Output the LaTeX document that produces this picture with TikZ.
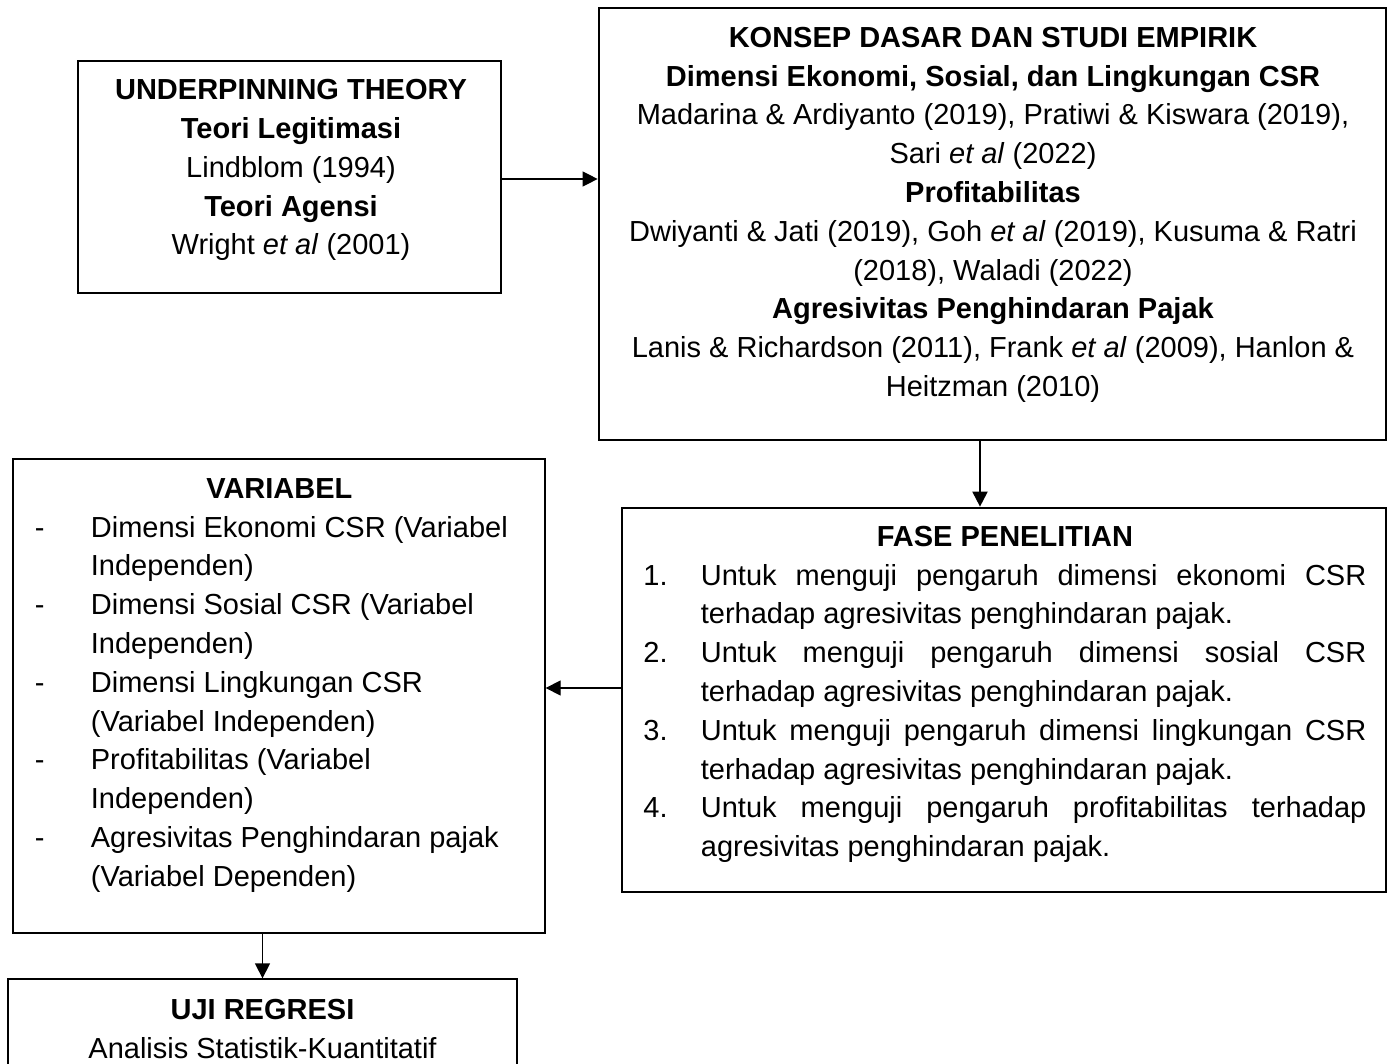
\documentclass[tikz,border=0pt]{standalone}
\usepackage{fontspec}
\setmainfont{Liberation Sans}
\usetikzlibrary{arrows.meta}
\newcommand{\natsp}{\spaceskip=0pt\xspaceskip=0pt\relax}
\newcommand{\fixsp}{\spaceskip=0.2778em\xspaceskip=0.2778em\relax}
\begin{document}
\begin{tikzpicture}[x=0.5pt,y=-0.5pt,
  every node/.style={font=\fontsize{14.5pt}{19.4pt}\selectfont},
  thinbox/.style={draw, line width=0.65pt, rectangle, inner sep=0pt},
  thickbox/.style={draw, line width=1.35pt, rectangle, inner sep=0pt},
  txt/.style={inner sep=0pt, anchor=north},
  arr/.style={line width=0.65pt, -{Triangle[length=7.5pt,width=7.5pt]}}]
\clip (0,0) rectangle (1394,1064);
\fill[white] (0,0) rectangle (1394,1064);
% boxes
\node[thinbox, minimum width=211.5pt, minimum height=116pt] (b1) at (289.5,177) {};
\node[thickbox, minimum width=393.5pt, minimum height=216pt] (b2) at (992.5,224) {};
\node[thickbox, minimum width=382pt, minimum height=192pt] (b3) at (1004,700) {};
\node[thinbox, minimum width=266pt, minimum height=237pt] (b4) at (279,696) {};
\node[thinbox, minimum width=254.5pt, minimum height=70.5pt] (b5) at (262.5,1049.5) {};
% texts
\node[txt, text width=210pt, align=center] (t1) at (291,69.3) {\fixsp\rule{0pt}{15pt}\textbf{UNDERPINNING THEORY}\\
\textbf{Teori Legitimasi}\\
Lindblom (1994)\\
\textbf{Teori Agensi}\\
Wright \textit{et al} (2001)};
\node[txt, text width=380pt, align=center] (t2) at (993,17) {\fixsp\rule{0pt}{15pt}\textbf{KONSEP DASAR DAN STUDI EMPIRIK}\\
\textbf{Dimensi Ekonomi, Sosial, dan Lingkungan CSR}\\
Madarina \& Ardiyanto (2019), Pratiwi \& Kiswara (2019),\\
Sari \textit{et al} (2022)\\
\textbf{Profitabilitas}\\
Dwiyanti \& Jati (2019), Goh \textit{et al} (2019), Kusuma \& Ratri\\
(2018), Waladi (2022)\\
\textbf{Agresivitas Penghindaran Pajak}\\
Lanis \& Richardson (2011), Frank \textit{et al} (2009), Hanlon \&\\
Heitzman (2010)};
\node[txt, anchor=north west, text width=361.5pt, align=left] (t3) at (643,516) {\fixsp\rule{0pt}{15pt}\makebox[361.5pt]{\textbf{FASE PENELITIAN}}\\
\makebox[28.75pt][l]{1.}\makebox[332.75pt][s]{\natsp Untuk menguji pengaruh dimensi ekonomi CSR}\\
\hspace*{28.75pt}terhadap agresivitas penghindaran pajak.\\
\makebox[28.75pt][l]{2.}\makebox[332.75pt][s]{\natsp Untuk menguji pengaruh dimensi sosial CSR}\\
\hspace*{28.75pt}terhadap agresivitas penghindaran pajak.\\
\makebox[28.75pt][l]{3.}\makebox[332.75pt][s]{\natsp Untuk menguji pengaruh dimensi lingkungan CSR}\\
\hspace*{28.75pt}terhadap agresivitas penghindaran pajak.\\
\makebox[28.75pt][l]{4.}\makebox[332.75pt][s]{\natsp Untuk menguji pengaruh profitabilitas terhadap}\\
\hspace*{28.75pt}agresivitas penghindaran pajak.};
\node[txt, anchor=north west, text width=244.5pt, align=left] (t4) at (34.5,468) {\fixsp\rule{0pt}{15pt}\makebox[244.5pt]{\textbf{VARIABEL}}\\
\makebox[28pt][l]{-}Dimensi Ekonomi CSR (Variabel\\
\hspace*{28pt}Independen)\\
\makebox[28pt][l]{-}Dimensi Sosial CSR (Variabel\\
\hspace*{28pt}Independen)\\
\makebox[28pt][l]{-}Dimensi Lingkungan CSR\\
\hspace*{28pt}(Variabel Independen)\\
\makebox[28pt][l]{-}Profitabilitas (Variabel\\
\hspace*{28pt}Independen)\\
\makebox[28pt][l]{-}Agresivitas Penghindaran pajak\\
\hspace*{28pt}(Variabel Dependen)};
\node[txt, text width=250pt, align=center] (t5) at (262.5,989) {\fixsp\rule{0pt}{15pt}\textbf{UJI REGRESI}\\
Analisis Statistik-Kuantitatif};
% connectors
\draw[arr] ([yshift=-1pt]b1.east) -- ([yshift=-1pt]b1.east -| b2.west);
\draw[arr, line width=1pt] ([xshift=-6.25pt]b2.south) -- ([xshift=-6.25pt]b2.south |- b3.north);
\draw[arr] ([yshift=6pt]b3.west) -- ([yshift=6pt]b3.west -| b4.east);
\draw[arr] (b5.north |- b4.south) -- (b5.north);
\end{tikzpicture}
\end{document}
